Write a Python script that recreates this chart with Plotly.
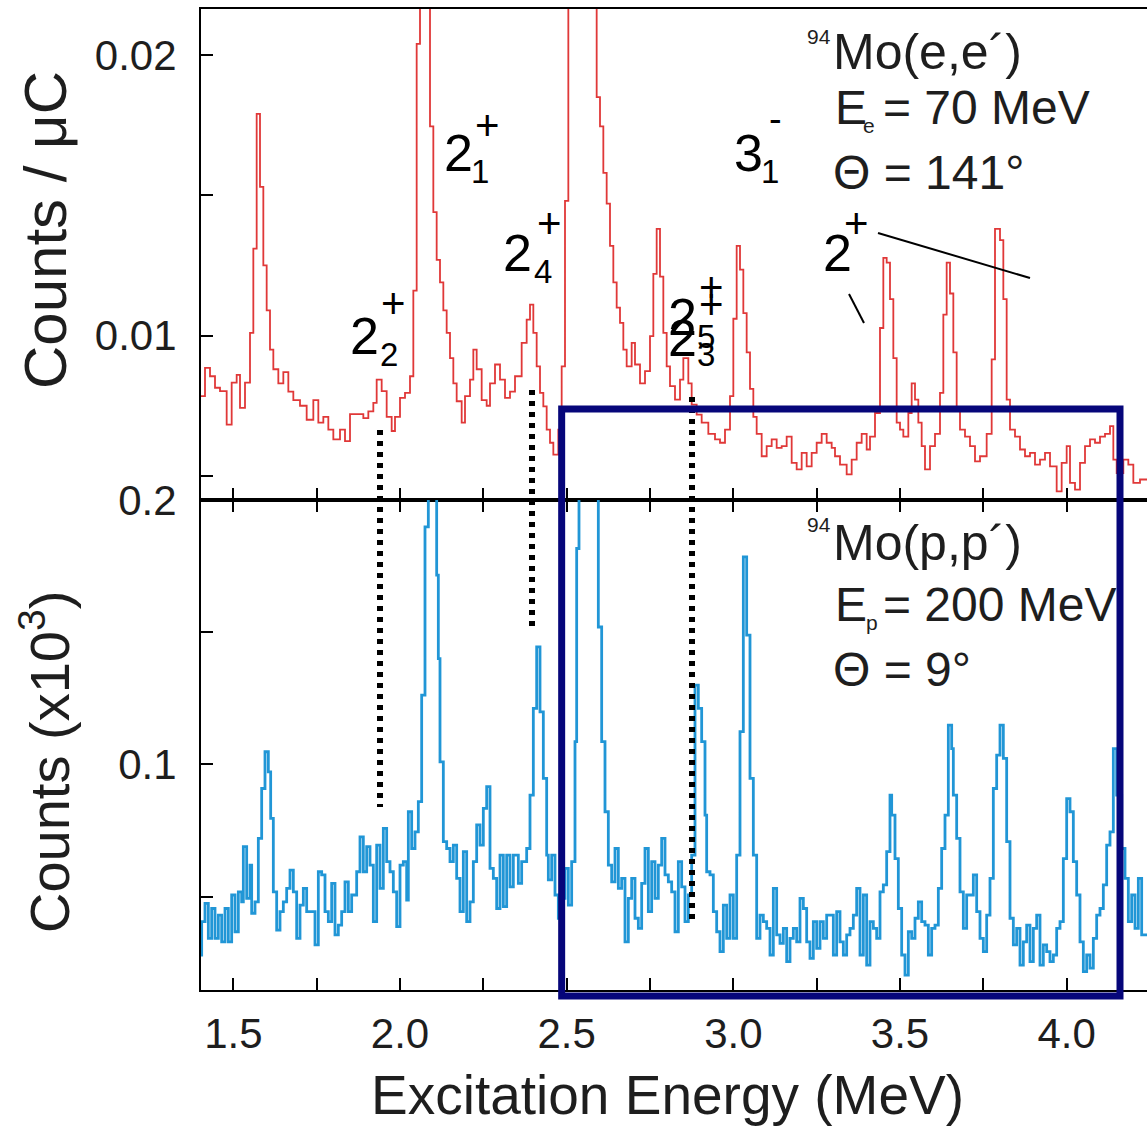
import plotly.graph_objects as go

# ---------------- data ----------------
# (e,e') spectrum: bin start energies (MeV) and counts/uC in units of 1e-3
red_E = [1.400, 1.415, 1.430, 1.445, 1.460, 1.480, 1.495, 1.510, 1.520, 1.535,
         1.550, 1.560, 1.570, 1.580, 1.590, 1.600, 1.610, 1.620, 1.635, 1.650,
         1.665, 1.680, 1.700, 1.720, 1.740, 1.755, 1.770, 1.785, 1.800, 1.820,
         1.835, 1.850, 1.870, 1.890, 1.905, 1.920, 1.930, 1.945, 1.960, 1.975,
         1.985, 2.000, 2.015, 2.030, 2.040, 2.050, 2.060, 2.090, 2.100, 2.110,
         2.120, 2.130, 2.140, 2.150, 2.160, 2.170, 2.185, 2.195, 2.210, 2.220,
         2.230, 2.245, 2.260, 2.270, 2.285, 2.300, 2.315, 2.330, 2.345, 2.365,
         2.380, 2.390, 2.400, 2.410, 2.420, 2.430, 2.440, 2.450, 2.460, 2.475,
         2.485, 2.495, 2.505, 2.590, 2.600, 2.610, 2.620, 2.630, 2.640, 2.650,
         2.660, 2.670, 2.680, 2.695, 2.705, 2.720, 2.735, 2.750, 2.760, 2.770,
         2.780, 2.790, 2.800, 2.810, 2.825, 2.840, 2.850, 2.865, 2.875, 2.890,
         2.905, 2.925, 2.945, 2.960, 2.975, 2.990, 3.000, 3.010, 3.020, 3.030,
         3.040, 3.050, 3.060, 3.070, 3.085, 3.100, 3.115, 3.130, 3.145, 3.160,
         3.175, 3.190, 3.205, 3.220, 3.235, 3.250, 3.265, 3.280, 3.295, 3.305,
         3.320, 3.340, 3.355, 3.370, 3.385, 3.400, 3.410, 3.425, 3.440, 3.450,
         3.460, 3.470, 3.480, 3.490, 3.500, 3.510, 3.525, 3.535, 3.545, 3.555,
         3.565, 3.575, 3.590, 3.605, 3.620, 3.630, 3.640, 3.650, 3.660, 3.670,
         3.680, 3.695, 3.710, 3.725, 3.740, 3.760, 3.775, 3.785, 3.800, 3.810,
         3.820, 3.830, 3.845, 3.860, 3.875, 3.890, 3.905, 3.920, 3.935, 3.950,
         3.970, 3.985, 4.000, 4.010, 4.025, 4.040, 4.055, 4.070, 4.085, 4.100,
         4.115, 4.130, 4.140, 4.150, 4.170, 4.185, 4.200, 4.220, 4.245]
red_v = [7.84, 8.85, 8.55, 8.14, 8.02, 6.83, 8.32, 8.60, 7.42, 8.32,
         10.1, 13.1, 17.9, 15.3, 12.5, 10.9, 9.5, 8.8, 8.3, 8.7,
         8.0, 7.7, 7.5, 7.0, 7.7, 6.9, 7.1, 6.65, 6.3, 6.65,
         6.24, 7.2, 7.2, 7.06, 7.3, 7.6, 8.43, 8.02, 7.1, 6.6,
         7.1, 7.78, 7.96, 8.55, 11.6, 20.4, 25.0, 17.46, 14.4, 12.7,
         11.9, 10.9, 10.1, 9.2, 8.3, 7.66, 6.9, 7.84, 8.43, 9.5,
         8.8, 7.7, 7.5, 8.3, 8.97, 8.43, 7.78, 8.0, 8.55, 9.74,
         10.57, 11.1, 10.1, 8.9, 7.96, 7.48, 6.65, 6.18, 5.76, 6.65,
         8.9, 14.8, 25.0, 18.5, 17.46, 15.8, 14.7, 13.2, 11.9, 11.0,
         10.45, 9.5, 8.9, 9.74, 8.97, 8.3, 8.73, 9.98, 12.2, 13.8,
         12.1, 10.1, 8.9, 8.2, 7.72, 8.43, 9.2, 8.3, 7.54, 7.18,
         6.9, 6.5, 6.3, 6.18, 6.65, 7.84, 10.6, 13.2, 12.35, 10.8,
         9.4, 8.1, 7.1, 6.5, 5.7, 6.06, 6.3, 6.0, 6.06, 6.4,
         5.46, 5.23, 5.82, 5.34, 5.82, 6.18, 6.5, 6.18, 6.0, 5.7,
         5.4, 5.05, 5.58, 6.18, 6.5, 5.94, 6.4, 7.24, 10.27, 12.77,
         12.6, 11.3, 9.2, 6.9, 6.65, 6.4, 7.24, 8.3, 7.72, 6.9,
         6.06, 5.23, 6.06, 6.5, 7.96, 10.75, 12.6, 11.5, 9.4, 7.36,
         6.65, 6.4, 6.06, 5.52, 5.7, 6.5, 9.15, 13.8, 13.4, 11.3,
         7.72, 6.65, 6.4, 5.94, 5.7, 5.82, 5.4, 5.58, 5.82, 5.34,
         4.45, 5.46, 6.06, 4.75, 4.51, 5.46, 6.06, 6.3, 6.18, 6.4,
         6.5, 6.77, 5.58, 5.1, 5.58, 5.4, 4.75, 4.87, 4.87]

# (p,p') spectrum: bin start energies (MeV) and counts (x10^3) in units of 0.01
blue_E = [1.400, 1.405, 1.415, 1.425, 1.435, 1.445, 1.455, 1.465, 1.475, 1.485,
          1.495, 1.505, 1.515, 1.525, 1.530, 1.540, 1.550, 1.555, 1.565, 1.575,
          1.585, 1.595, 1.605, 1.612, 1.620, 1.630, 1.640, 1.650, 1.660, 1.670,
          1.680, 1.690, 1.700, 1.710, 1.720, 1.745, 1.755, 1.765, 1.775, 1.785,
          1.795, 1.805, 1.815, 1.825, 1.835, 1.845, 1.855, 1.870, 1.880, 1.890,
          1.900, 1.910, 1.920, 1.930, 1.940, 1.950, 1.960, 1.970, 1.980, 1.990,
          2.000, 2.010, 2.020, 2.025, 2.035, 2.045, 2.055, 2.065, 2.075, 2.085,
          2.110, 2.115, 2.120, 2.130, 2.140, 2.150, 2.160, 2.170, 2.180, 2.190,
          2.200, 2.210, 2.220, 2.230, 2.240, 2.250, 2.260, 2.270, 2.280, 2.290,
          2.300, 2.310, 2.320, 2.330, 2.340, 2.355, 2.365, 2.380, 2.390, 2.400,
          2.410, 2.420, 2.430, 2.440, 2.445, 2.455, 2.465, 2.475, 2.485, 2.495,
          2.505, 2.515, 2.525, 2.530, 2.537, 2.595, 2.605, 2.615, 2.625, 2.635,
          2.645, 2.655, 2.665, 2.675, 2.685, 2.695, 2.705, 2.715, 2.725, 2.735,
          2.745, 2.755, 2.765, 2.775, 2.785, 2.795, 2.805, 2.815, 2.825, 2.835,
          2.845, 2.855, 2.865, 2.875, 2.885, 2.895, 2.905, 2.915, 2.920, 2.930,
          2.940, 2.950, 2.960, 2.970, 2.980, 2.990, 3.000, 3.010, 3.020, 3.030,
          3.040, 3.050, 3.060, 3.070, 3.080, 3.090, 3.100, 3.110, 3.120, 3.130,
          3.140, 3.150, 3.160, 3.170, 3.180, 3.190, 3.200, 3.210, 3.220, 3.230,
          3.240, 3.250, 3.260, 3.270, 3.280, 3.290, 3.300, 3.310, 3.320, 3.330,
          3.340, 3.350, 3.360, 3.370, 3.380, 3.390, 3.400, 3.410, 3.420, 3.430,
          3.440, 3.450, 3.460, 3.470, 3.475, 3.485, 3.495, 3.505, 3.515, 3.525,
          3.535, 3.545, 3.555, 3.565, 3.575, 3.585, 3.595, 3.605, 3.615, 3.625,
          3.635, 3.645, 3.655, 3.660, 3.670, 3.680, 3.690, 3.700, 3.720, 3.730,
          3.740, 3.750, 3.760, 3.770, 3.780, 3.790, 3.800, 3.810, 3.820, 3.830,
          3.840, 3.850, 3.860, 3.870, 3.880, 3.890, 3.900, 3.910, 3.920, 3.930,
          3.940, 3.950, 3.960, 3.970, 3.980, 3.990, 4.000, 4.010, 4.020, 4.030,
          4.040, 4.050, 4.060, 4.070, 4.080, 4.090, 4.100, 4.110, 4.120, 4.130,
          4.140, 4.150, 4.165, 4.175, 4.185, 4.195, 4.205, 4.215, 4.225, 4.245]
blue_v = [2.79, 4.05, 4.74, 3.42, 4.55, 3.42, 4.30, 3.29, 4.55, 3.29,
          5.06, 3.67, 5.18, 4.80, 6.89, 4.93, 6.19, 4.37, 4.80, 7.20,
          9.09, 10.48, 9.72, 7.96, 5.18, 3.73, 4.43, 4.80, 5.31, 6.00,
          5.18, 3.42, 4.68, 5.31, 4.43, 3.17, 5.94, 5.82, 4.43, 4.05,
          5.50, 3.55, 3.92, 4.43, 5.56, 4.43, 5.06, 5.94, 7.26, 5.94,
          6.89, 6.19, 4.05, 6.95, 5.31, 7.58, 6.32, 5.94, 5.18, 3.86,
          6.19, 6.32, 4.87, 8.21, 6.82, 7.45, 8.59, 12.62, 18.99, 25.0,
          17.16, 14.0, 10.1, 7.08, 6.82, 6.32, 6.95, 5.69, 4.43, 6.70,
          4.05, 4.80, 6.32, 7.71, 6.95, 8.34, 9.16, 6.07, 5.69, 4.55,
          6.57, 4.62, 6.57, 5.37, 6.57, 5.50, 6.32, 6.82, 8.84, 12.12,
          14.45, 11.99, 9.47, 6.57, 5.63, 6.57, 5.06, 4.18, 4.93, 6.07,
          4.68, 6.32, 10.86, 18.17, 25.0, 15.2, 10.86, 8.21, 6.19, 5.56,
          6.82, 5.31, 5.69, 3.29, 4.93, 5.69, 4.18, 3.80, 5.50, 6.82,
          4.43, 6.32, 4.93, 6.19, 7.20, 5.82, 5.56, 5.18, 3.67, 6.32,
          5.37, 4.05, 5.06, 6.57, 13.0, 12.12, 10.86, 8.08, 5.94, 5.82,
          4.43, 3.67, 2.92, 4.68, 3.42, 5.06, 3.42, 6.57, 11.24, 17.85,
          14.89, 9.47, 6.57, 3.42, 4.30, 4.05, 3.80, 2.79, 5.31, 3.55,
          3.23, 3.80, 2.54, 3.42, 3.80, 3.29, 4.93, 4.55, 3.29, 2.66,
          4.05, 3.04, 4.05, 3.42, 4.30, 4.30, 2.79, 4.43, 3.29, 2.79,
          3.55, 3.80, 4.30, 5.31, 2.79, 5.06, 2.41, 4.05, 3.80, 3.42,
          5.18, 5.44, 6.70, 8.84, 8.08, 6.44, 4.55, 2.79, 2.03, 3.67,
          3.42, 4.18, 4.80, 4.05, 3.92, 2.79, 3.80, 3.92, 5.31, 6.82,
          8.08, 11.49, 10.60, 8.84, 7.20, 5.18, 3.80, 5.06, 5.82, 4.43,
          3.42, 2.92, 4.30, 5.69, 9.09, 10.35, 11.49, 10.23, 7.08, 4.18,
          3.17, 3.80, 2.41, 3.29, 3.92, 2.54, 3.80, 4.30, 2.41, 3.17,
          2.92, 2.54, 2.79, 3.80, 4.05, 6.44, 8.71, 8.21, 6.32, 5.06,
          3.29, 2.16, 2.79, 2.29, 3.42, 4.30, 4.55, 5.44, 6.95, 7.45,
          10.60, 8.84, 6.82, 5.69, 4.05, 5.06, 3.80, 5.69, 3.55, 3.55]

x_tick_vals = [1.5, 1.75, 2.0, 2.25, 2.5, 2.75, 3.0, 3.25, 3.5, 3.75, 4.0]
x_tick_text = ["1.5", "", "2.0", "", "2.5", "", "3.0", "", "3.5", "", "4.0"]
top_tick_vals = [0.005, 0.01, 0.015, 0.02]
top_tick_text = ["", "0.01", "", "0.02"]
bot_tick_vals = [0.05, 0.1, 0.15, 0.2]
bot_tick_text = ["", "0.1", "", "0.2"]

# energies of the dotted level markers (MeV) and their vertical pixel extents
level_E = [1.940, 2.396, 2.876]
level_span_px = [(430, 807), (390, 628), (397, 920)]
box_E = (2.485, 4.160)

# ---------------- layout geometry ----------------
W, H = 1147, 1126
L, R, T, B = 201, 0, 9, 136
PW, PH = W - L - R, H - T - B


def px(x):
    return (x - L) / PW


def py(y):
    return (H - B - y) / PH


split = py(500)
FONT = "Liberation Sans, Arial, Helvetica, sans-serif"
RED = "#e03838"
BLUE = "#2196d6"
NAVY = "#06067a"

fig = go.Figure()
fig.add_trace(go.Scatter(
    x=red_E, y=[v * 1e-3 for v in red_v], mode="lines", line_shape="hv",
    line=dict(color=RED, width=1.8), xaxis="x", yaxis="y", showlegend=False,
    hoverinfo="skip"))
fig.add_trace(go.Scatter(
    x=blue_E, y=[v * 1e-2 for v in blue_v], mode="lines", line_shape="hv",
    line=dict(color=BLUE, width=2.8), xaxis="x2", yaxis="y2", showlegend=False,
    hoverinfo="skip"))

xrange = [1.403, 4.241]
axis_common = dict(showgrid=False, zeroline=False, showline=True, linecolor="black",
                   linewidth=2, ticks="inside", ticklen=12, tickwidth=2,
                   tickcolor="black")

shapes = []
for e, (ya, yb) in zip(level_E, level_span_px):
    shapes.append(dict(type="line", xref="x", yref="paper", x0=e, x1=e,
                       y0=py(ya), y1=py(yb),
                       line=dict(color="black", width=6, dash="5px,6px"), layer="above"))
# pointer lines near the "2+" label
shapes.append(dict(type="line", xref="paper", yref="paper", x0=px(878), y0=py(233),
                   x1=px(1030), y1=py(278), line=dict(color="black", width=2)))
shapes.append(dict(type="line", xref="paper", yref="paper", x0=px(849), y0=py(294),
                   x1=px(864), y1=py(323), line=dict(color="black", width=2)))
# highlight box
shapes.append(dict(type="rect", xref="x", yref="paper", x0=box_E[0], x1=box_E[1],
                   y0=py(996), y1=py(409), line=dict(color=NAVY, width=7),
                   fillcolor="rgba(0,0,0,0)", layer="above"))

ann = []


def txt(text, x, y, size, xanchor="center", color="black", angle=0):
    ann.append(dict(text=text, x=px(x), y=py(y), xref="paper", yref="paper",
                    xanchor=xanchor, yanchor="middle", showarrow=False,
                    textangle=angle, font=dict(family=FONT, size=size, color=color)))


# level labels: (main, sub, sup, main centre, sub centre, sup centre)
levels = [
    ("2", "2", "+", (364, 336), (389, 355), (393, 303)),
    ("2", "1", "+", (458, 153), (480, 171), (487, 126)),
    ("2", "4", "+", (517, 253), (543, 271), (549, 223)),
    ("3", "1", "-", (748, 153), (770, 171), (775, 119)),
    ("2", "5", "+", (682, 317), (706, 337), (711, 288)),
    ("2", "3", "+", (682, 338), (706, 355), (711, 304)),
]
for main, sub, sup, mc, sc, uc in levels:
    txt(main, mc[0], mc[1], 52)
    txt(sub, sc[0], sc[1], 33)
    txt(sup, uc[0], uc[1], 42 if sup == "+" else 38)
txt("2", 837, 253, 52)
txt("+", 856, 223, 42)

INK = "#1e1e1e"
# (e,e') info
txt("94", 805, 37, 21, "left", INK)
txt("Mo(e,e\u00b4)", 831, 52, 50, "left", INK)
txt("E", 833, 107, 48, "left", INK)
txt("e", 861, 125, 21, "left", INK)
txt("= 70 MeV", 881, 107, 48, "left", INK)
txt("\u0398 = 141\u00b0", 831, 172, 48, "left", INK)
# (p,p') info
txt("94", 805, 524, 21, "left", INK)
txt("Mo(p,p\u00b4)", 831, 543, 50, "left", INK)
txt("E", 833, 604, 48, "left", INK)
txt("p", 864, 622, 21, "left", INK)
txt("= 200 MeV", 881, 604, 48, "left", INK)
txt("\u0398 = 9\u00b0", 831, 670, 48, "left", INK)

# axis titles
txt("Counts / \u03bcC", 45, 230, 60, "center", INK, -90)
txt("Counts (x10<sup>3</sup>)", 45, 762, 56, "center", INK, -90)
txt("Excitation Energy (MeV)", 667, 1095, 55, "center", INK)

fig.update_layout(
    width=W, height=H, margin=dict(l=L, r=R, t=T, b=B, pad=0, autoexpand=False),
    paper_bgcolor="white", plot_bgcolor="white",
    font=dict(family=FONT, color=INK),
    xaxis=dict(domain=[0, 1], range=xrange, anchor="y", tickvals=x_tick_vals,
               showticklabels=False, mirror=True, **axis_common),
    xaxis2=dict(domain=[0, 1], range=xrange, anchor="y2", tickvals=x_tick_vals,
                ticktext=x_tick_text, mirror="ticks", ticklabelstandoff=6,
                tickfont=dict(size=42, family=FONT, color=INK), **axis_common),
    yaxis=dict(domain=[split, 1], range=[0.00414, 0.02164], anchor="x",
               tickvals=top_tick_vals, ticktext=top_tick_text, ticklabelstandoff=14,
               tickfont=dict(size=42, family=FONT, color=INK), **axis_common),
    yaxis2=dict(domain=[0, split], range=[0.01466, 0.20005], anchor="x2",
                tickvals=bot_tick_vals, ticktext=bot_tick_text, ticklabelstandoff=14,
                tickfont=dict(size=42, family=FONT, color=INK), **axis_common),
    shapes=shapes, annotations=ann,
)

fig.write_html("out.html")
